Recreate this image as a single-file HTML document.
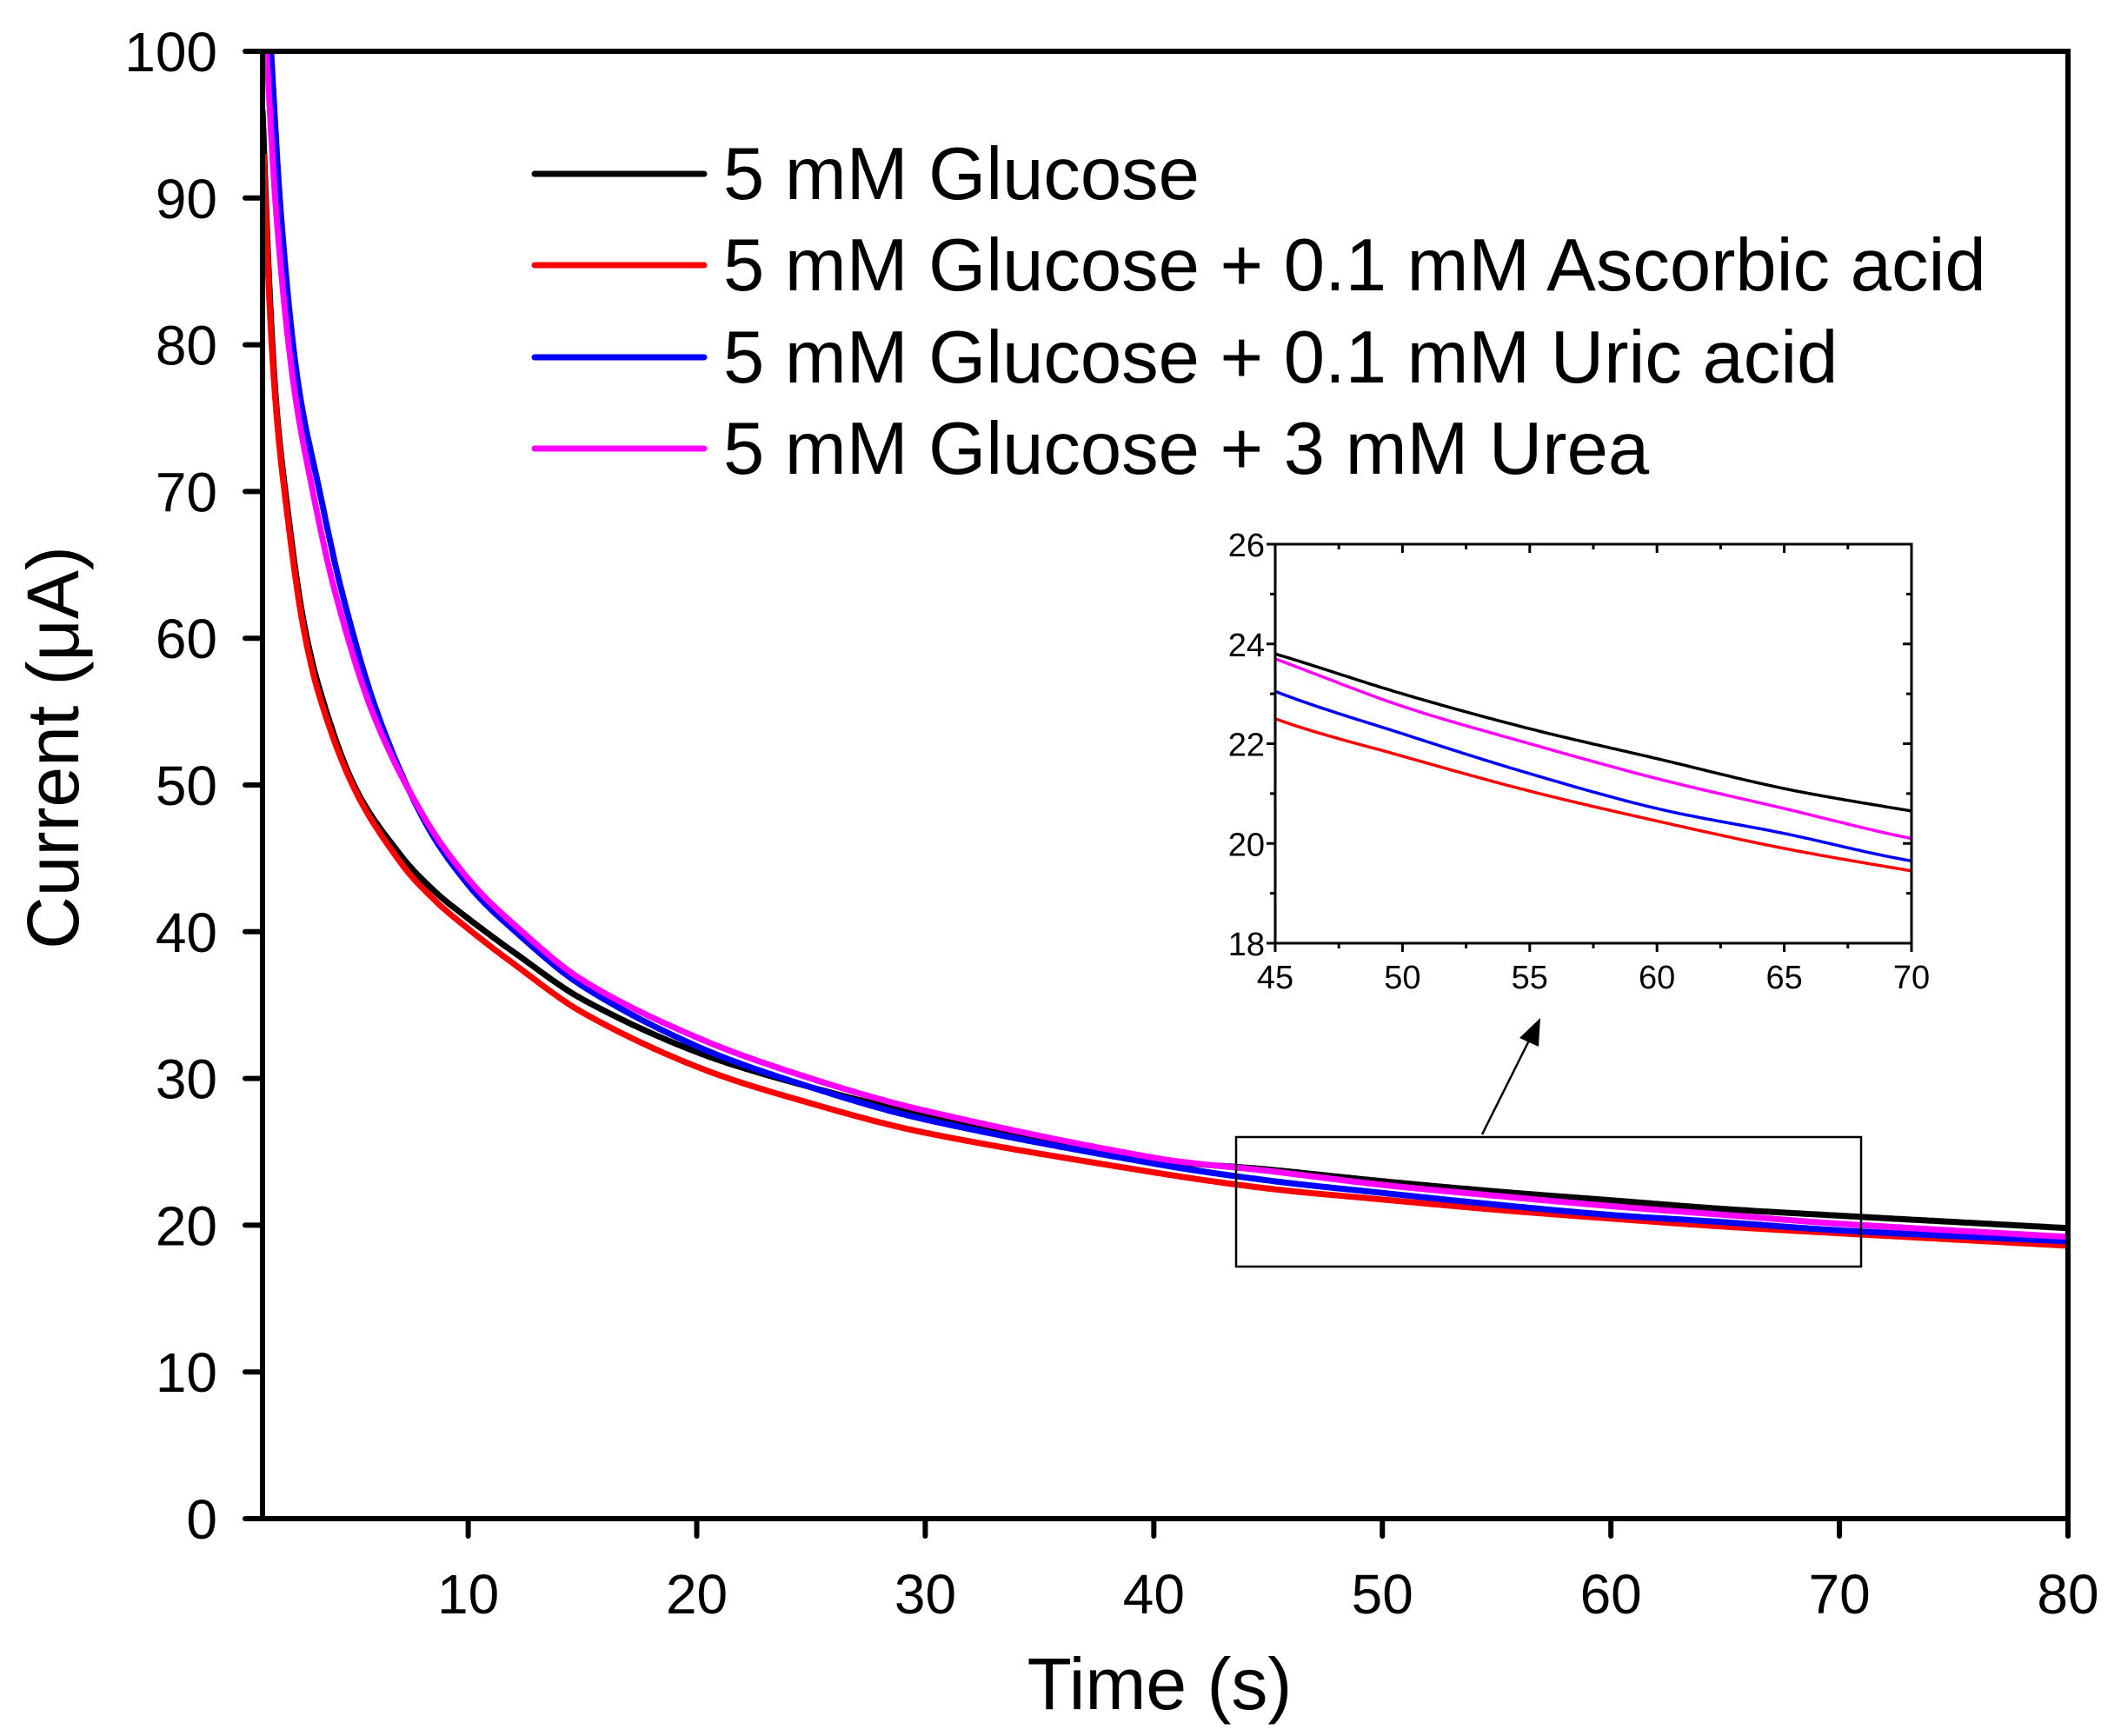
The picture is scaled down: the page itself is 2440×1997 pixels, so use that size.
<!DOCTYPE html>
<html><head><meta charset="utf-8"><style>
html,body{margin:0;padding:0;background:#fff;}
svg{display:block;font-family:"Liberation Sans",Arial,sans-serif;}
</style></head><body>
<svg id="s" width="2440" height="1997" viewBox="0 0 2440 1997" xmlns="http://www.w3.org/2000/svg">
<defs>
<clipPath id="cm"><rect x="302" y="59" width="2077" height="1688"/></clipPath>
<clipPath id="ci"><rect x="1467" y="626" width="732" height="459"/></clipPath>
</defs>
<g id="main" clip-path="url(#cm)"></g>
<rect x="302" y="59" width="2077" height="1688" fill="none" stroke="#000" stroke-width="6"/>
<g id="ticks" stroke="#000" stroke-width="6" stroke-linecap="round"></g>
<g id="lbl" font-size="64" fill="#000"></g>
<text x="1334" y="1966" font-size="84" text-anchor="middle">Time (s)</text>
<text transform="translate(90,860) rotate(-90)" font-size="84" text-anchor="middle">Current (μA)</text>
<g font-size="85" fill="#000">
<line x1="615" y1="200" x2="810" y2="200" stroke="#000" stroke-width="7" stroke-linecap="round"/>
<line x1="615" y1="305" x2="810" y2="305" stroke="#f00" stroke-width="7" stroke-linecap="round"/>
<line x1="615" y1="411" x2="810" y2="411" stroke="#00f" stroke-width="7" stroke-linecap="round"/>
<line x1="615" y1="516" x2="810" y2="516" stroke="#f0f" stroke-width="7" stroke-linecap="round"/>
<text x="832" y="229">5 mM Glucose</text>
<text x="832" y="334">5 mM Glucose + 0.1 mM Ascorbic acid</text>
<text x="832" y="440">5 mM Glucose + 0.1 mM Uric acid</text>
<text x="832" y="545">5 mM Glucose + 3 mM Urea</text>
</g>
<rect x="1422" y="1308" width="719" height="149" fill="none" stroke="#000" stroke-width="2.5"/>
<line x1="1705" y1="1305" x2="1760" y2="1195" stroke="#000" stroke-width="2.5"/>
<polygon points="1772,1171 1748,1194 1770,1204" fill="#000"/>
<rect x="1467" y="626" width="732" height="459" fill="#fff"/>
<g id="inset" clip-path="url(#ci)"></g>
<rect x="1467" y="626" width="732" height="459" fill="none" stroke="#000" stroke-width="3"/>
<g id="iticks" stroke="#000" stroke-width="3"></g>
<g id="ilbl" font-size="38" fill="#000"></g>
</svg>
<script>
var NS="http://www.w3.org/2000/svg";
function el(p,t,a,txt){var e=document.createElementNS(NS,t);for(var k in a)e.setAttribute(k,a[k]);if(txt!==undefined)e.textContent=txt;document.getElementById(p).appendChild(e);return e;}
var S={
k:[[1,96],[1.3,84],[1.6,76],[2.0,70],[2.7,62],[3.5,56.5],[5,50],[7,45.3],[8.5,42.8],[10,40.9],[12,38.6],[15,35.4],[20,31.8],[25,29.4],[30,27.5],[40,24.5],[45,23.8],[50,23.0],[55,22.3],[60,21.7],[65,21.1],[70,20.65],[80,19.8]],
r:[[1.05,93],[1.3,83],[1.6,75.5],[2.0,69.5],[2.7,61.5],[3.5,56],[5,49.8],[7,44.8],[8.5,42.2],[10,40.2],[12,37.8],[15,34.5],[20,30.8],[25,28.3],[30,26.3],[40,23.6],[45,22.5],[50,21.75],[55,21.05],[60,20.45],[65,19.9],[70,19.45],[80,18.6]],
b:[[1.3,102],[1.8,89],[2.5,78],[3.5,70],[4.5,63],[6,55],[8,47.8],[10,43.2],[12,40.1],[15,36.3],[20,32.2],[25,29.4],[30,27.2],[40,24.2],[45,23.05],[50,22.2],[55,21.4],[60,20.7],[65,20.2],[70,19.65],[80,18.9]],
m:[[1.1,102],[1.6,89],[2.3,78],[3.2,70],[4.2,63],[5.8,55],[8,48],[10,43.6],[12,40.5],[15,36.7],[20,32.8],[25,30],[30,27.8],[40,24.6],[45,23.7],[50,22.75],[55,22.0],[60,21.3],[65,20.7],[70,20.1],[80,19.2]]};
var col={k:"#000",r:"#f00",b:"#00f",m:"#f0f"};
function interp(pts,t){for(var i=0;i<pts.length-1;i++){if(t<=pts[i+1][0]||i==pts.length-2){var p0=pts[Math.max(i-1,0)],p1=pts[i],p2=pts[i+1],p3=pts[Math.min(i+2,pts.length-1)];
var h=p2[0]-p1[0],u=(t-p1[0])/h;
var m1=(p2[1]-p0[1])/(p2[0]-p0[0])*h, m2=(p3[1]-p1[1])/(p3[0]-p1[0])*h;
var u2=u*u,u3=u2*u;return (2*u3-3*u2+1)*p1[1]+(u3-2*u2+u)*m1+(-2*u3+3*u2)*p2[1]+(u3-u2)*m2;}}}
function path(pts,X,Y,t0,t1,n){var d="";for(var i=0;i<=n;i++){var t=t0+(t1-t0)*(i/n);var v=interp(pts,t);d+=(i?"L":"M")+X(t).toFixed(1)+","+Y(v).toFixed(1);}return d;}
var MX=function(t){return 302+(t-1)*2077/79;},MY=function(v){return 1747-v*16.88;};
var IX=function(t){return 1467+(t-45)*732/25;},IY=function(v){return 1085-(v-18)*459/8;};
["k","r","b","m"].forEach(function(k){var p=S[k];
var d1=path(p,MX,MY,p[0][0],3,200)+path(p,MX,MY,3,80,600).replace(/^M/,"L");
el("main","path",{d:d1,fill:"none",stroke:col[k],"stroke-width":7,"stroke-linejoin":"round"});
el("inset","path",{d:path(p,IX,IY,45,70,200),fill:"none",stroke:col[k],"stroke-width":3.5});});
for(var v=0;v<=100;v+=10){var y=MY(v);el("ticks","line",{x1:282,y1:y,x2:302,y2:y});el("lbl","text",{x:250,y:y+23,"text-anchor":"end"},v);}
for(var t=10;t<=80;t+=10){var x=MX(t);el("ticks","line",{x1:x,y1:1747,x2:x,y2:1767});el("lbl","text",{x:x,y:1856,"text-anchor":"middle"},t);}
for(var t=45;t<=70;t+=2.5){var x=IX(t),L=(t%5==0)?10:6;el("iticks","line",{x1:x,y1:1085,x2:x,y2:1085+L});el("iticks","line",{x1:x,y1:626,x2:x,y2:626+L});if(t%5==0)el("ilbl","text",{x:x,y:1137,"text-anchor":"middle"},t);}
for(var v=18;v<=26;v+=1){var y=IY(v),L=(v%2==0)?10:6;el("iticks","line",{x1:1467-L,y1:y,x2:1467,y2:y});el("iticks","line",{x1:2199-L,y1:y,x2:2199,y2:y});if(v%2==0)el("ilbl","text",{x:1455,y:y+14,"text-anchor":"end"},v);}
</script>
</body></html>
